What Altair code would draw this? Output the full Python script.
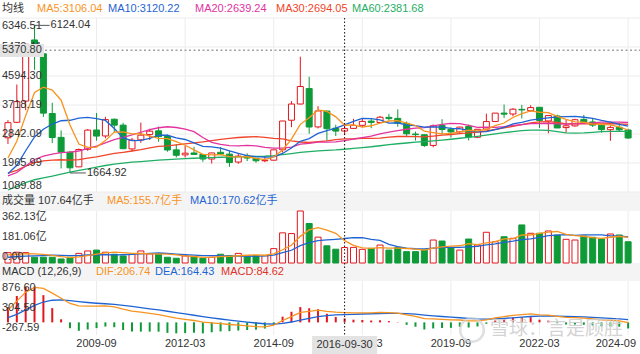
import altair as alt
import pandas as pd

# ---------------- data (quarterly, 2007Q1 .. 2024Q3) ----------------
quarters = [f"{y}-{m:02d}" for y in range(2007, 2025) for m in (3, 6, 9, 12)][:71]

opens = [2728.19, 3196, 3836, 5683, 5265, 3461, 2741, 2294, 1849, 2381,
         2963, 2783, 3289, 3110, 2392, 2665, 2825, 2938, 2767, 2363,
         2212, 2269, 2225, 2086, 2289, 2234, 1995, 2181, 2112, 2033,
         2051, 2365, 3258, 3748, 4214, 3056, 3536, 3017, 2931, 3012,
         3105, 3232, 3190, 3345, 3314, 3163, 2841, 2819, 2497, 3101,
         2983, 2907, 3066, 2743, 2991, 3221, 3474, 3446, 3587, 3547,
         3649, 3237, 3386, 3036, 3087, 3283, 3206, 3107, 2972, 3044,
         2963]
highs = [3260, 4335.96, 5562, 6124.04, 5522, 3786, 2952, 2333, 2402, 2993,
         3478.01, 3361, 3306, 3181, 2724, 3186.72, 3001, 3067, 2826, 2536,
         2478, 2453, 2227, 2276, 2444.80, 2334, 2270, 2259, 2113, 2146,
         2366, 3239, 3835, 5178.19, 4572, 3684, 3538.69, 3120, 3140, 3301,
         3301, 3295, 3391, 3450, 3587.03, 3220, 2915, 2827, 3129, 3288.45,
         3048, 3063, 3127, 2990, 3458.79, 3474.92, 3731.69, 3624, 3723, 3708.94,
         3651.89, 3417, 3424.84, 3265, 3303, 3418.95, 3322, 3128, 3097, 3174,
         3000]
lows = [2541, 3180, 3563, 4778.73, 3357, 2566, 1802, 1664.92, 1844, 2333,
        2639, 2712, 2890, 2382, 2319, 2574, 2661, 2610, 2307, 2134,
        2132, 2219, 2001, 1949, 2205, 1849.65, 1940, 2023, 1974, 1991,
        2036, 2282, 3049, 3737, 2850.71, 3011, 2638.30, 2780, 2807, 3002,
        3044, 3016, 3175, 3254, 3062, 2782, 2644, 2449.20, 2440.91, 2824,
        2733, 2857, 2646.80, 2719, 2982, 3202, 3328, 3377, 3312, 3515,
        3023, 2863.65, 3021, 2885.09, 3063, 3144, 3053, 2882, 2635.09, 2924,
        2689.70]
closes = [3183.98, 3820.70, 5552.30, 5261.56, 3472.71, 2736.10, 2293.78, 1820.81, 2373.21, 2959.36,
          2779.43, 3277.14, 3109.10, 2398.37, 2655.66, 2808.08, 2928.11, 2762.08, 2359.22, 2199.42,
          2262.79, 2225.43, 2086.17, 2269.13, 2236.62, 1979.21, 2174.67, 2115.98, 2033.31, 2048.33,
          2363.87, 3234.68, 3747.90, 4277.22, 3052.78, 3539.18, 3003.92, 2929.61, 3004.70, 3103.64,
          3222.51, 3192.43, 3348.94, 3307.17, 3168.90, 2847.42, 2821.35, 2493.90, 3090.76, 2978.88,
          2905.19, 3050.12, 2750.30, 2984.67, 3218.05, 3473.07, 3441.91, 3591.20, 3568.17, 3639.78,
          3252.20, 3398.62, 3024.39, 3089.26, 3272.86, 3202.06, 3110.48, 2974.93, 3041.17, 2967.40,
          2721]
ma5 = [2116, 2621, 3397, 4099, 4258, 4169, 3863, 3117, 2539, 2437,
       2445, 2642, 2900, 2905, 2844, 2850, 2780, 2710, 2703, 2611,
       2502, 2362, 2227, 2209, 2216, 2159, 2149, 2155, 2108, 2070,
       2147, 2359, 2686, 3134, 3335, 3570, 3524, 3361, 3106.04, 3116,
       3053, 3091, 3174, 3235, 3248, 3173, 3099, 2928, 2884, 2846,
       2858, 2904, 2955, 2934, 2982, 3095, 3174, 3342, 3458, 3543,
       3499, 3490, 3377, 3281, 3207, 3197, 3140, 3130, 3120, 3059,
       2963]
ma10 = [1643, 1898, 2335, 2753, 2985, 3143, 3242, 3257, 3319, 3347,
        3307, 3253, 3008, 2722, 2640, 2647, 2711, 2805, 2804, 2728,
        2676, 2571, 2469, 2456, 2414, 2331, 2255, 2191, 2158, 2143,
        2153, 2254, 2420, 2621, 2703, 2859, 2942, 3023, 3120.22, 3226,
        3312, 3307, 3267, 3170, 3182, 3113, 3095, 3051, 3060, 3047,
        3015, 3001, 2941, 2909, 2914, 2977, 3039, 3148, 3196, 3262,
        3297, 3332, 3359, 3370, 3375, 3348, 3315, 3253, 3201, 3133,
        3080]
ma20 = [1575, 1679, 1878, 2073, 2171, 2234, 2280, 2296, 2328, 2406,
        2475, 2575, 2672, 2738, 2813, 2895, 2977, 3031, 3061, 3038,
        2991, 2912, 2738, 2589, 2527, 2489, 2483, 2498, 2481, 2435,
        2415, 2413, 2444, 2538, 2558, 2595, 2599, 2607, 2639.24, 2684,
        2732, 2781, 2844, 2896, 2942, 2986, 3018, 3037, 3090, 3136,
        3164, 3154, 3104, 3040, 3048, 3045, 3067, 3100, 3128, 3155,
        3156, 3167, 3150, 3139, 3145, 3162, 3177, 3201, 3198, 3198,
        3189]
ma30 = [1662, 1744, 1869, 1980, 2032, 2054, 2064, 2051, 2071, 2115,
        2152, 2204, 2255, 2289, 2328, 2372, 2424, 2466, 2486, 2513,
        2542, 2574, 2604, 2644, 2680, 2707, 2736, 2751, 2760, 2739,
        2712, 2693, 2632, 2600, 2586, 2612, 2636, 2673, 2694.05, 2699,
        2714, 2711, 2719, 2749, 2766, 2768, 2764, 2755, 2779, 2805,
        2827, 2854, 2876, 2900, 2933, 2983, 3025, 3074, 3125, 3178,
        3208, 3213, 3189, 3150, 3157, 3146, 3149, 3151, 3152, 3148,
        3131]
ma60 = [1150, 1250, 1370, 1460, 1520, 1570, 1630, 1690, 1740, 1790,
        1840, 1890, 1930, 1960, 1990, 2010, 2030, 2050, 2070, 2085,
        2100, 2110, 2120, 2130, 2140, 2145, 2150, 2158, 2165, 2170,
        2187, 2218, 2251, 2290, 2309, 2333, 2350, 2362, 2381.68, 2407,
        2433, 2457, 2487, 2519, 2547, 2570, 2594, 2610, 2633, 2659,
        2684, 2714, 2740, 2772, 2806, 2845, 2881, 2913, 2943, 2959,
        2960, 2953, 2911, 2875, 2871, 2879, 2893, 2912, 2923, 2923,
        2922]
volumes = [72, 75, 72, 40, 40, 40, 28, 40, 67, 84,
           90, 75, 61, 49, 61, 84, 63, 61, 40, 33,
           49, 44, 33, 40, 61, 51, 67, 51, 51, 50.6,
           100, 210, 205, 362.13, 275, 180, 120, 96, 107.64, 109,
           95, 102, 125, 90, 109, 79, 79, 90, 160, 153,
           107, 90, 167, 125, 214, 148, 183, 172, 265, 207,
           207, 223, 195, 165, 160, 188, 179, 167, 202, 195,
           148]
vol_ma5 = [56, 62, 65, 63, 59.8, 53.4, 44, 37.6, 43, 51.8,
           61.8, 71.2, 75.4, 71.8, 67.2, 66, 63.6, 63.6, 61.8, 56.2,
           49.2, 45.4, 39.8, 39.8, 45.4, 45.8, 50.4, 54, 56.2, 54.1,
           63.9, 92.5, 123.3, 185.5, 230.4, 246.4, 228.4, 206.6, 155.7, 122.5,
           105.5, 101.9, 107.7, 104.2, 104.2, 101, 96.4, 89.4, 103.4, 112.2,
           117.8, 120, 135.4, 128.4, 140.6, 148.8, 167.4, 168.4, 196.4, 195,
           206.8, 214.8, 219.4, 199.4, 190, 186.2, 177.4, 171.8, 179.2, 186.2,
           178.2]
vol_ma10 = [40, 44, 48, 50, 52, 54, 53, 51, 51, 55.8,
            57.6, 57.6, 56.5, 57.4, 59.5, 63.9, 67.4, 69.5, 66.8, 61.7,
            57.6, 54.5, 51.7, 50.8, 50.8, 47.5, 47.9, 46.9, 48, 49.8,
            54.9, 71.5, 88.7, 120.9, 142.3, 155.2, 160.5, 165, 170.62, 176.5,
            176, 165.2, 157.2, 130, 113.4, 103.3, 99.2, 98.6, 103.8, 108.2,
            109.4, 108.2, 112.4, 115.9, 126.4, 133.3, 143.7, 151.9, 162.4, 167.8,
            177.8, 191.1, 193.9, 197.9, 192.5, 196.5, 196.1, 195.6, 189.3, 188.1,
            182.2]
dif = [262, 450, 640, 740, 720, 620, 510, 400, 350, 345,
       345, 350, 330, 280, 240, 215, 190, 165, 125, 90,
       65, 40, 5, -10, -25, -45, -60, -75, -90, -95,
       -60, 40, 120, 210, 235, 260, 235, 215, 206.74, 200,
       203, 202, 210, 205, 195, 160, 128, 80, 75, 65,
       52, 50, 30, 30, 55, 95, 120, 150, 165, 180,
       160, 155, 125, 105, 100, 90, 75, 55, 45, 30,
       -5]
dea = [100.4, 170.3, 264.2, 359.4, 431.5, 469.2, 477.4, 461.9, 439.5, 420.6,
       405.5, 394.4, 381.5, 361.2, 337.0, 312.6, 288.1, 263.5, 235.8, 206.6,
       178.3, 150.6, 121.5, 95.2, 71.2, 48.0, 26.4, 6.1, -13.1, -29.5,
       -35.6, -20.5, 7.6, 48.1, 85.5, 120.4, 143.3, 157.6, 164.43, 171.5,
       177.8, 182.6, 188.1, 191.5, 192.2, 185.8, 174.2, 155.4, 139.3, 124.4,
       109.9, 97.9, 84.3, 73.5, 69.8, 74.8, 83.9, 97.1, 110.7, 124.5,
       131.6, 136.3, 134.0, 128.2, 122.6, 116.1, 107.9, 97.3, 86.8, 75.5,
       59.4]
macd = [323, 559, 752, 761, 577, 302, 65, -124, -179, -151,
        -121, -89, -103, -162, -194, -195, -196, -197, -222, -233,
        -227, -221, -233, -210, -192, -186, -173, -162, -154, -131,
        -49, 121, 225, 324, 299, 279, 183, 115, 84.62, 57,
        50, 39, 44, 27, 6, -52, -92, -151, -129, -119,
        -116, -96, -109, -87, -30, 40, 72, 106, 109, 111,
        57, 37, -18, -46, -45, -52, -66, -85, -84, -91,
        -129]

main_ticks = [6346.51, 5470.41, 4594.30, 3718.19, 2842.09, 1965.99, 1089.88]
vol_ticks = [362.13, 181.06, 0.0]
vol_tick_text = ["362.13亿", "181.06亿", "0.00"]
macd_ticks = [876.60, 304.50, -267.59]
x_tick_idx = [10, 20, 30, 40, 50, 60, 70]
cross_idx = 38
cross_date = "2016-09-30"
cross_price = 5370.80

# ---------------- style ----------------
W, H = 640, 354
FONT = "Liberation Sans, Arial, Noto Sans CJK SC, sans-serif"
CJK = "Noto Sans CJK SC"
FS = 11
RED = "#e3161d"
GREEN = "#0f9a38"
C_MA5, C_MA10, C_MA20, C_MA30, C_MA60 = "#f7931e", "#1f64d2", "#e2339f", "#f0452b", "#1fae64"
TXT = "#333333"
GRID = "#ececec"
BAND = "#f4f4f4"

n = len(closes)
idx = list(range(n))
df = pd.DataFrame({"i": idx, "q": quarters, "open": opens, "high": highs, "low": lows,
                   "close": closes, "vol": volumes, "macd": macd, "zero": [0.0] * n})
df["dir"] = ["up" if c >= o else "down" for o, c in zip(opens, closes)]
df["mdir"] = ["up" if m >= 0 else "down" for m in macd]

XS = alt.Scale(domain=[-1 / 3, n - 1 + 7 / 9], nice=False, zero=False)
MAIN = alt.Scale(domain=[main_ticks[-1], main_ticks[0]], range=[192, 18], nice=False, zero=False)
VOL = alt.Scale(domain=[0, vol_ticks[0]], range=[263, 211], nice=False, zero=False)
MAC = alt.Scale(domain=[macd_ticks[-1], macd_ticks[0]], range=[335, 281], nice=False, zero=False)
DIRC = alt.Scale(domain=["up", "down"], range=[RED, GREEN])
DIRF = alt.Scale(domain=["up", "down"], range=["#ffffff", GREEN])

X = alt.X("i:Q", scale=XS, axis=None)
one = pd.DataFrame({"a": [0]})


def txt(s, x, y, color, size=FS, align="left", font=FONT, opacity=1.0):
    return alt.Chart(one).mark_text(text=s, align=align, baseline="middle", font=font,
                                    fontSize=size, color=color, opacity=opacity).encode(
        x=alt.value(x), y=alt.value(y))


def band(y0, y1):
    return alt.Chart(one).mark_rect(color=BAND).encode(
        x=alt.value(0), x2=alt.value(W), y=alt.value(y0), y2=alt.value(y1))


vg_df = pd.DataFrame({"i": x_tick_idx})


def vgrid(y0, y1):
    return alt.Chart(vg_df).mark_rule(color=GRID, strokeWidth=1).encode(
        x=X, y=alt.value(y0), y2=alt.value(y1))


def ylab(values, texts, scale, dy):
    d = pd.DataFrame({"v": values, "t": texts})
    return alt.Chart(d).mark_text(align="left", baseline="middle", dy=dy, font=FONT,
                                  fontSize=FS, color=TXT).encode(
        x=alt.value(2), y=alt.Y("v:Q", scale=scale, axis=None), text="t:N")


layers = []
layers += [band(192, 211), band(263, 281)]
layers += [vgrid(18, 192), vgrid(211, 263), vgrid(281, 335)]
layers.append(alt.Chart(pd.DataFrame({"v": main_ticks})).mark_rule(color=GRID).encode(
    y=alt.Y("v:Q", scale=MAIN, axis=None), x=alt.value(0), x2=alt.value(W)))

cross_df = pd.DataFrame({"i": [cross_idx], "p": [cross_price],
                         "a": [cross_idx - 3.67], "b": [cross_idx + 3.67],
                         "t": [f"{cross_price:.2f}"], "d": [cross_date]})
layers.append(alt.Chart(cross_df).mark_rule(color="#a0a0a0", strokeDash=[2, 2.5], strokeWidth=1.5).encode(
    y=alt.Y("p:Q", scale=MAIN, axis=None), x=alt.value(0), x2=alt.value(W)))

# candles
layers.append(alt.Chart(df).mark_rule(strokeWidth=1).encode(
    x=X, y=alt.Y("low:Q", scale=MAIN, axis=None), y2="high:Q",
    color=alt.Color("dir:N", scale=DIRC, legend=None)))
layers.append(alt.Chart(df).mark_bar(size=6, strokeWidth=1).encode(
    x=X, y=alt.Y("open:Q", scale=MAIN, axis=None), y2="close:Q",
    fill=alt.Fill("dir:N", scale=DIRF, legend=None),
    stroke=alt.Stroke("dir:N", scale=DIRC, legend=None)))

# moving averages
ma_keys = ["MA60", "MA30", "MA20", "MA10", "MA5"]
ma_series = [ma60, ma30, ma20, ma10, ma5]
ma_cols = [C_MA60, C_MA30, C_MA20, C_MA10, C_MA5]
ma_long = pd.concat([pd.DataFrame({"i": idx, "v": s, "k": k}) for k, s in zip(ma_keys, ma_series)])
layers.append(alt.Chart(ma_long).mark_line(strokeWidth=1.3).encode(
    x=X, y=alt.Y("v:Q", scale=MAIN, axis=None),
    color=alt.Color("k:N", scale=alt.Scale(domain=ma_keys, range=ma_cols), legend=None),
    detail="k:N"))

# volume
layers.append(alt.Chart(df).mark_bar(size=6, strokeWidth=1).encode(
    x=X, y=alt.Y("vol:Q", scale=VOL, axis=None), y2="zero:Q",
    fill=alt.Fill("dir:N", scale=DIRF, legend=None),
    stroke=alt.Stroke("dir:N", scale=DIRC, legend=None)))
vk = ["VMA10", "VMA5"]
v_long = pd.concat([pd.DataFrame({"i": idx, "v": s, "k": k}) for k, s in zip(vk, [vol_ma10, vol_ma5])])
layers.append(alt.Chart(v_long).mark_line(strokeWidth=1.3).encode(
    x=X, y=alt.Y("v:Q", scale=VOL, axis=None),
    color=alt.Color("k:N", scale=alt.Scale(domain=vk, range=[C_MA10, C_MA5]), legend=None),
    detail="k:N"))

# MACD
layers.append(alt.Chart(df).mark_rule(strokeWidth=2).encode(
    x=X, y=alt.Y("macd:Q", scale=MAC, axis=None), y2="zero:Q",
    color=alt.Color("mdir:N", scale=DIRC, legend=None)))
mk = ["DEA", "DIF"]
m_long = pd.concat([pd.DataFrame({"i": idx, "v": s, "k": k}) for k, s in zip(mk, [dea, dif])])
layers.append(alt.Chart(m_long).mark_line(strokeWidth=1.3).encode(
    x=X, y=alt.Y("v:Q", scale=MAC, axis=None),
    color=alt.Color("k:N", scale=alt.Scale(domain=mk, range=[C_MA10, C_MA5]), legend=None),
    detail="k:N"))

# crosshair vertical
layers.append(alt.Chart(cross_df).mark_rule(color="#111111", strokeDash=[1.5, 2], strokeWidth=1).encode(
    x=X, y=alt.value(18), y2=alt.value(335)))

# axis labels
fmt = [f"{v:.2f}" for v in main_ticks]
layers.append(ylab(main_ticks[:1], fmt[:1], MAIN, 8))
layers.append(ylab(main_ticks[1:-1], fmt[1:-1], MAIN, 0))
layers.append(ylab(main_ticks[-1:], fmt[-1:], MAIN, -6))
layers.append(ylab(vol_ticks[:1], vol_tick_text[:1], VOL, 6))
layers.append(ylab(vol_ticks[1:2], vol_tick_text[1:2], VOL, 0))
layers.append(ylab(vol_ticks[2:], vol_tick_text[2:], VOL, -6))
mfmt = [f"{v:.2f}" for v in macd_ticks]
layers.append(ylab(macd_ticks[:1], mfmt[:1], MAC, 7))
layers.append(ylab(macd_ticks[1:2], mfmt[1:2], MAC, 0))
layers.append(ylab(macd_ticks[2:], mfmt[2:], MAC, -7))

# max / min annotations
pk = max(idx, key=lambda k: highs[k])
tr = min(idx, key=lambda k: lows[k])
ann = pd.DataFrame({"i": [pk, tr], "i2": [pk + 1.7, tr + 1.8], "v": [highs[pk], lows[tr]],
                    "t": [f"{highs[pk]:.2f}", f"{lows[tr]:.2f}"]})
layers.append(alt.Chart(ann).mark_rule(color="#555555", strokeWidth=1).encode(
    x=X, x2="i2:Q", y=alt.Y("v:Q", scale=MAIN, axis=None)))
layers.append(alt.Chart(ann).mark_text(align="left", baseline="middle", dx=1, font=FONT,
                                       fontSize=FS, color=TXT).encode(
    x=alt.X("i2:Q", scale=XS, axis=None), y=alt.Y("v:Q", scale=MAIN, axis=None), text="t:N"))

# headers
c = cross_idx
layers += [
    txt("均线", 2, 9, TXT, font=CJK),
    txt(f"MA5:{ma5[c]:.2f}", 37, 9, C_MA5),
    txt(f"MA10:{ma10[c]:.2f}", 108, 9, C_MA10),
    txt(f"MA20:{ma20[c]:.2f}", 195, 9, C_MA20),
    txt(f"MA30:{ma30[c]:.2f}", 276, 9, C_MA30),
    txt(f"MA60:{ma60[c]:.2f}", 352, 9, C_MA60),
    txt(f"成交量 {volumes[c]:.2f}亿手", 2, 201, TXT),
    txt(f"MA5:{vol_ma5[c]:g}亿手", 107, 201, C_MA5),
    txt(f"MA10:{vol_ma10[c]:g}亿手", 190, 201, C_MA10),
    txt("MACD (12,26,9)", 2, 272, TXT),
    txt(f"DIF:{dif[c]:.2f}", 96, 272, C_MA5),
    txt(f"DEA:{dea[c]:.2f}", 155, 272, C_MA10),
    txt(f"MACD:{macd[c]:.2f}", 221, 272, "#e0302a"),
]

# price crosshair label box
layers.append(alt.Chart(cross_df).mark_rect(color="#e3e3e3").encode(
    x=alt.value(0), x2=alt.value(44), y=alt.value(44), y2=alt.value(57)))
layers.append(alt.Chart(cross_df).mark_text(align="left", baseline="middle", font=FONT,
                                            fontSize=FS, color=TXT).encode(
    x=alt.value(2), y=alt.Y("p:Q", scale=MAIN, axis=None), text="t:N"))

# x labels (the last one is kept inside the right edge)
xl = pd.DataFrame({"i": x_tick_idx[:-1], "t": [quarters[k] for k in x_tick_idx[:-1]]})
layers.append(alt.Chart(xl).mark_text(baseline="middle", font=FONT, fontSize=FS, color=TXT).encode(
    x=X, y=alt.value(344), text="t:N"))
xl_last = pd.DataFrame({"i": x_tick_idx[-1:], "t": [quarters[x_tick_idx[-1]]]})
layers.append(alt.Chart(xl_last).mark_text(baseline="middle", align="right", dx=8, font=FONT,
                                           fontSize=FS, color=TXT).encode(
    x=X, y=alt.value(344), text="t:N"))
layers.append(alt.Chart(cross_df).mark_rect(color="#e3e3e3").encode(
    x=alt.X("a:Q", scale=XS, axis=None), x2="b:Q", y=alt.value(336), y2=alt.value(354)))
layers.append(alt.Chart(cross_df).mark_text(baseline="middle", font=FONT, fontSize=FS, color=TXT).encode(
    x=X, y=alt.value(345), text="d:N"))

# watermark
layers.append(alt.Chart(one).mark_point(shape="circle", filled=False, size=560, strokeWidth=2.5,
                                        color="#d4d4d4").encode(x=alt.value(472), y=alt.value(330)))
layers.append(txt("雪球：言是顾胜", 490, 329, "#cfcfcf", size=19, font=CJK, opacity=0.9))

chart = alt.layer(*layers).resolve_scale(
    y="independent", color="independent", fill="independent", stroke="independent"
).properties(
    width=W, height=H, padding=0, background="white",
    autosize=alt.AutoSizeParams(type="none"),
).configure_view(stroke=None)

chart.save("out.html", embed_options={"renderer": "svg", "actions": False})
